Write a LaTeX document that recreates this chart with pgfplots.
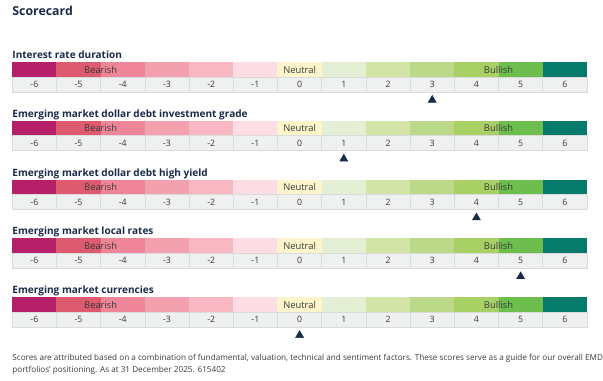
\documentclass[border=0pt]{standalone}
\usepackage{fontspec}
\setmainfont{Open Sans}
\usepackage{pgfplots}
\pgfplotsset{compat=1.18}
\definecolor{cc0}{HTML}{B52068}
\definecolor{cc1}{HTML}{DE5A6E}
\definecolor{cc2}{HTML}{EE8599}
\definecolor{cc3}{HTML}{F3A1AE}
\definecolor{cc4}{HTML}{F7B8C3}
\definecolor{cc5}{HTML}{FCDDE3}
\definecolor{cc6}{HTML}{FFF5CC}
\definecolor{cc7}{HTML}{E4EFD6}
\definecolor{cc8}{HTML}{D2E5A7}
\definecolor{cc9}{HTML}{BCD98A}
\definecolor{cc10}{HTML}{A8D064}
\definecolor{cc11}{HTML}{6DBE4D}
\definecolor{cc12}{HTML}{067A6B}
\definecolor{numgray}{HTML}{EFF0F0}
\definecolor{sepgray}{HTML}{D9DBDC}
\definecolor{navy}{HTML}{1B2A4A}
\definecolor{txt}{HTML}{3A3A3A}
\tikzset{
  numlbl/.style={font=\fontsize{8.8bp}{10bp}\selectfont, text=txt, inner sep=0pt},
  bandlbl/.style={font=\fontsize{9.4bp}{10bp}\selectfont, text=txt, inner sep=0pt},
  rowtitle/.style={font=\fontsize{10.1bp}{12bp}\selectfont\bfseries, text=navy, inner sep=0pt, anchor=base west},
  foot/.style={font=\fontsize{8.2bp}{9bp}\selectfont, text=txt, inner sep=0pt, anchor=base west}
}
\begin{document}
\begin{tikzpicture}
\begin{axis}[
  scale only axis, width=603bp, height=382bp,
  xmin=-6.777, xmax=6.804, ymin=0, ymax=382, y dir=reverse,
  hide axis, clip=false
]
\path (rel axis cs:0,0) rectangle (rel axis cs:1,1);
\pgfplotsinvokeforeach{0,...,4}{
  \pgfmathsetmacro\yA{62.3+59.05*#1}
  \pgfmathsetmacro\yB{\yA+15}
  \pgfmathsetmacro\yC{\yB+15}
  \pgfmathsetmacro\yM{\yA+7.5}
  \pgfmathsetmacro\yN{\yB+7.5}
  \pgfplotsforeachungrouped \n in {0,...,12}{
    \pgfmathtruncatemacro\xk{\n-6}
    \pgfmathsetmacro\xa{\n-6.5}
    \pgfmathsetmacro\xb{\n-5.5}
    \edef\cmd{%
      \noexpand\addplot[fill=cc\n, draw=none, forget plot] coordinates {(\xa,\yA) (\xb,\yA) (\xb,\yB) (\xa,\yB)} --cycle;
      \noexpand\addplot[fill=numgray, draw=sepgray, line width=0.6bp, forget plot] coordinates {(\xa,\yB) (\xb,\yB) (\xb,\yC) (\xa,\yC)} --cycle;
      \noexpand\node[numlbl] at (axis cs:\xk,\yN) {\xk};
    }\cmd
  }
  \edef\cmd{%
    \noexpand\node[bandlbl] at (axis cs:-4.5,\yM) {Bearish};
    \noexpand\node[bandlbl] at (axis cs:0,\yM) {Neutral};
    \noexpand\node[bandlbl] at (axis cs:4.5,\yM) {Bullish};
  }\cmd
}
% scores
\addplot[only marks, mark=triangle*, mark size=4.7bp, color=navy, mark options={draw=navy, fill=navy}]
  coordinates {(3,100.5) (1,159.55) (4,218.6) (5,277.65) (0,336.7)};
\node[anchor=base west, inner sep=0pt, font=\fontsize{12.4bp}{14bp}\selectfont\bfseries, text=navy] at (axis cs:-6.5,15.7) {Scorecard};
\node[rowtitle] at (axis cs:-6.5,58.6) {Interest rate duration};
\node[rowtitle] at (axis cs:-6.5,117.75) {Emerging market dollar debt investment grade};
\node[rowtitle] at (axis cs:-6.5,176.8) {Emerging market dollar debt high yield};
\node[rowtitle] at (axis cs:-6.5,235.85) {Emerging market local rates};
\node[rowtitle] at (axis cs:-6.5,294.9) {Emerging market currencies};
\node[foot] at (axis cs:-6.5,362) {Scores are attributed based on a combination of fundamental, valuation, technical and sentiment factors. These scores serve as a guide for our overall EMD};
\node[foot] at (axis cs:-6.5,374) {portfolios' positioning. As at 31 December 2025. 615402};
\end{axis}
\end{tikzpicture}
\end{document}
